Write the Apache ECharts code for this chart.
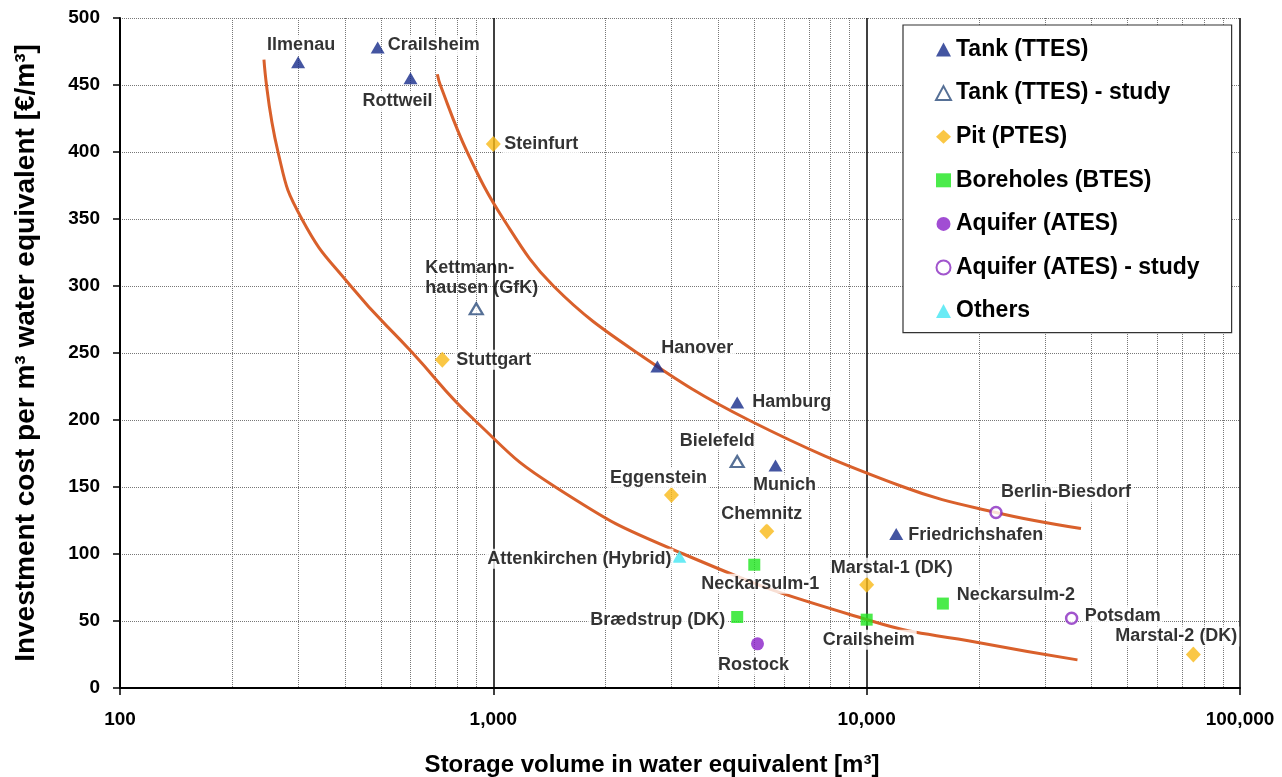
<!DOCTYPE html>
<html><head><meta charset="utf-8">
<script src="https://cdn.jsdelivr.net/npm/echarts@6/dist/echarts.min.js"></script>
<style>html,body{margin:0;padding:0;background:#fff}#c{width:1282px;height:777px}</style>
</head><body><div id="c"></div>
<script>
// ---- data ----
const xTickLabels = ['100', '1,000', '10,000', '100,000'];
const yTicks = [0, 50, 100, 150, 200, 250, 300, 350, 400, 450, 500];

const tankNames  = ['Ilmenau', 'Crailsheim', 'Rottweil', 'Hanover', 'Hamburg', 'Munich', 'Friedrichshafen'];
const tankValues = [[300, 467], [490, 478], [600, 455], [2750, 240], [4500, 213], [5700, 166], [12000, 115]];

const tankStudyNames  = ['Kettmann-\nhausen (GfK)', 'Bielefeld'];
const tankStudyValues = [[900, 283], [4500, 169]];

const pitNames  = ['Steinfurt', 'Stuttgart', 'Eggenstein', 'Chemnitz', 'Marstal-1 (DK)', 'Marstal-2 (DK)'];
const pitValues = [[1000, 406], [730, 245], [3000, 144], [5400, 117], [10000, 77], [75000, 25]];

const btesNames  = ['Neckarsulm-1', 'Brædstrup (DK)', 'Crailsheim', 'Neckarsulm-2'];
const btesValues = [[5000, 92], [4500, 53], [10000, 51], [16000, 63]];

const atesNames  = ['Rostock'];
const atesValues = [[5100, 33]];

const atesStudyNames  = ['Berlin-Biesdorf', 'Potsdam'];
const atesStudyValues = [[22200, 131], [35400, 52]];

const otherNames  = ['Attenkirchen (Hybrid)'];
const otherValues = [[3150, 98]];

// trend curves
const lowerCurve = [[243, 469], [265, 400], [307, 350], [415, 300], [608, 250], [890, 200],
                    [1466, 150], [3230, 100], [10300, 50], [19860, 34], [36700, 21]];
const upperCurve = [[708, 458], [721, 450], [851, 400], [1064, 350], [1449, 300], [2432, 250], [4830, 200],
                    [12560, 150], [22200, 131], [37500, 119]];

// ---- label placement (align, dx, dy in px relative to marker centre) ----
const tankLabelPos = [['center', 3, -17], ['left', 8, -2], ['center', -13, 23], ['left', 2, -18], ['left', 13, -1], ['center', 9, 19], ['left', 10, 1]];
const tankStudyLabelPos = [['left', -53, -31], ['center', -20, -21]];
const pitLabelPos = [['left', 9, 0], ['left', 12, 0], ['center', -13, -17], ['center', -5, -17], ['center', 25, -17], ['center', -17, -18]];
const btesLabelPos = [['center', 6, 19], ['right', -10, 3], ['center', 2, 20], ['left', 12, -9]];
const atesLabelPos = [['center', -4, 21]];
const atesStudyLabelPos = [['left', 3, -20], ['left', 11, -2]];
const otherLabelPos = [['right', -6, 2]];

const FONT = '"Liberation Sans", Arial, sans-serif';

function pts(names, values, pos) {
  return values.map((v, i) => ({
    name: names[i],
    value: v,
    label: {
      show: true,
      position: 'inside',
      align: pos[i][0],
      verticalAlign: 'middle',
      offset: [pos[i][1], pos[i][2]],
      formatter: names[i],
      color: '#000',
      fontFamily: FONT,
      fontWeight: 'bold',
      fontSize: 18,
      lineHeight: 20,
      backgroundColor: names[i].indexOf('\n') >= 0 ? 'transparent' : '#fff',
      padding: [0, 2],
      textBorderWidth: 0
    }
  }));
}

function scatter(name, names, values, pos, symbol, size, itemStyle) {
  return {
    name: name, type: 'scatter', z: 3,
    symbol: symbol, symbolSize: size,
    itemStyle: itemStyle,
    data: pts(names, values, pos),
    emphasis: { disabled: true }
  };
}

const chart = echarts.init(document.getElementById('c'));
chart.setOption({
  animation: false,
  backgroundColor: '#fff',
  textStyle: { fontFamily: FONT },
  grid: { left: 120, right: 42, top: 18, bottom: 89, outerBoundsMode: 'none', containLabel: false },
  legend: {
    data: ['Tank (TTES)', 'Tank (TTES) - study', 'Pit (PTES)', 'Boreholes (BTES)', 'Aquifer (ATES)', 'Aquifer (ATES) - study', 'Others'],
    orient: 'vertical', left: 903, top: 25,
    padding: [13, 32, 10, 32],
    itemGap: 20.6, itemWidth: 15, itemHeight: 14,
    backgroundColor: '#fff', borderColor: '#333', borderWidth: 1.2,
    textStyle: { fontFamily: FONT, fontWeight: 'bold', fontSize: 23, color: '#000' }
  },
  xAxis: {
    type: 'log', logBase: 10, min: 100, max: 100000,
    name: 'Storage volume in water equivalent [m³]',
    nameLocation: 'middle', nameGap: 65,
    nameTextStyle: { fontFamily: FONT, fontWeight: 'bold', fontSize: 24, color: '#000', padding: [0, 56, 0, 0] },
    axisLine: { show: true, lineStyle: { color: '#000', width: 2 } },
    axisTick: { show: true, length: 7, lineStyle: { color: '#000', width: 1.5 } },
    axisLabel: {
      fontFamily: FONT, fontWeight: 'bold', fontSize: 19, color: '#000', margin: 22,
      formatter: v => xTickLabels[Math.round(Math.log10(v)) - 2]
    },
    splitLine: { show: true, lineStyle: { color: '#000', width: 1.5, type: 'solid' } },
    minorTick: { show: false, splitNumber: 9 },
    minorSplitLine: { show: true, lineStyle: { color: '#777', width: 1, type: 'dotted' } }
  },
  yAxis: {
    type: 'value', min: 0, max: 500, interval: 50,
    name: 'Investment cost per m³ water equivalent [€/m³]',
    nameLocation: 'middle', nameGap: 80,
    nameTextStyle: { fontFamily: FONT, fontWeight: 'bold', fontSize: 28, color: '#000' },
    axisLine: { show: true, lineStyle: { color: '#000', width: 2 } },
    axisTick: { show: true, length: 7, lineStyle: { color: '#000', width: 1.5 } },
    axisLabel: {
      fontFamily: FONT, fontWeight: 'bold', fontSize: 19, color: '#000', margin: 20,
      formatter: v => String(yTicks[yTicks.indexOf(v)])
    },
    splitLine: { show: true, lineStyle: { color: '#777', width: 1, type: 'dotted' } }
  },
  series: [
    { name: 'lower', type: 'line', z: 1, data: lowerCurve, smooth: 0.5, showSymbol: false, silent: true,
      lineStyle: { color: '#d9602b', width: 3 } },
    { name: 'upper', type: 'line', z: 1, data: upperCurve, smooth: 0.4, showSymbol: false, silent: true,
      lineStyle: { color: '#d9602b', width: 3 } },
    scatter('Tank (TTES)', tankNames, tankValues, tankLabelPos, 'triangle', [14, 12], { color: '#152a8a' }),
    scatter('Tank (TTES) - study', tankStudyNames, tankStudyValues, tankStudyLabelPos, 'triangle', [13, 11],
      { color: '#fff', borderColor: '#2c4c7c', borderWidth: 2.2 }),
    scatter('Pit (PTES)', pitNames, pitValues, pitLabelPos, 'diamond', [15, 16], { color: '#f9b917' }),
    scatter('Boreholes (BTES)', btesNames, btesValues, btesLabelPos, 'rect', [12, 12], { color: '#1ee61e' }),
    scatter('Aquifer (ATES)', atesNames, atesValues, atesLabelPos, 'circle', 13, { color: '#8a21c8' }),
    scatter('Aquifer (ATES) - study', atesStudyNames, atesStudyValues, atesStudyLabelPos, 'circle', 11,
      { color: '#fff', borderColor: '#8a2bc0', borderWidth: 2.5 }),
    scatter('Others', otherNames, otherValues, otherLabelPos, 'triangle', [14, 12], { color: '#44e6f2' })
  ]
});
</script>
</body></html>
